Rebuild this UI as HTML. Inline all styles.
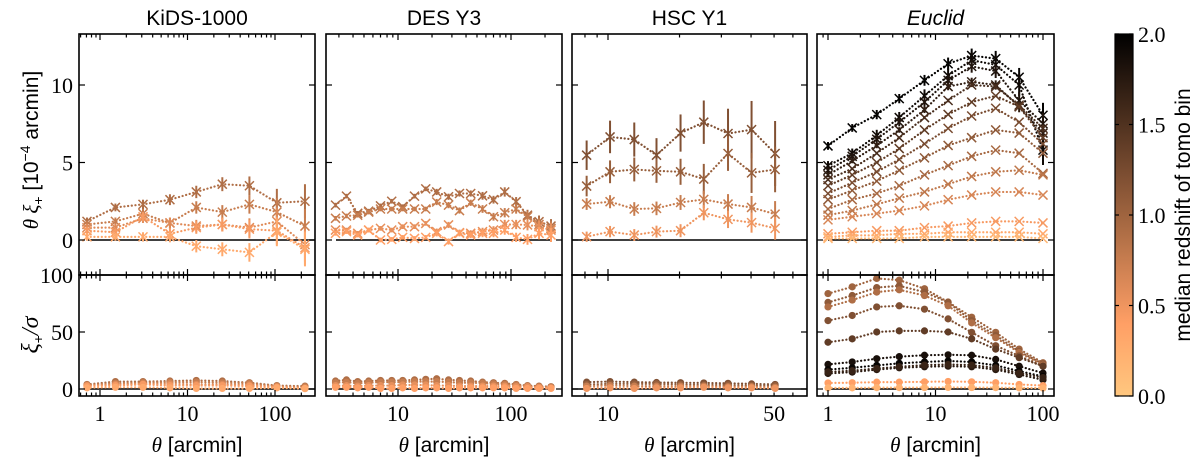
<!DOCTYPE html>
<html><head><meta charset="utf-8">
<style>
body{margin:0;background:#fff;}
svg{display:block;}
.tl{font-family:"Liberation Serif",serif;font-size:22px;fill:#000;}
.tt{font-family:"Liberation Sans",sans-serif;font-size:21px;fill:#000;}
</style></head>
<body>
<svg id="c" width="1200" height="464" viewBox="0 0 1200 464" xmlns="http://www.w3.org/2000/svg"></svg>
<script>
// ---- data ----
const kidsTheta=[0.71,1.5,3.1,6.3,12.6,25,51,105,220];
const kidsZ=[0.9,0.75,0.6,0.45,0.3];
const kidsTop=[
[1.2,2.1,2.3,2.6,3.1,3.6,3.5,2.4,2.5],
[1.0,1.2,1.7,1.1,2.1,1.8,2.3,1.8,0.9],
[0.8,0.8,1.4,1.1,0.9,1.0,0.8,1.2,-0.3],
[0.6,0.5,1.5,0.4,0.8,1.0,0.7,0.6,-0.5],
[0.2,0.2,0.2,0.2,-0.4,-0.6,-0.8,0.5,-0.6]];
const kidsErr=[0.25,0.25,0.3,0.35,0.4,0.45,0.6,0.9,1.1];
const kidsSN=[
[4,6.5,6.5,7,7.5,7,5.5,3,2.5],
[3.5,5,5.5,6,6,5.5,5,2.5,2],
[3,4,4.5,4.5,4,4,3.5,2,1],
[2.5,3,4,3,3,3,2.5,1.5,0.5],
[1,1.5,1.5,1,0.5,0.5,0.5,1,0.3]];

const desTheta=[2.8,3.5,4.4,5.5,7.0,8.8,11,14,17.6,22,28,35,44,56,70,88,111,140,177,226];
const desZ=[0.9,0.75,0.55,0.4];
const desTop=[
[2.25,2.83,1.72,1.86,2.2,2.5,2.15,2.83,3.3,3.1,2.79,3.0,3.0,2.85,2.6,3.1,2.47,1.6,1.18,0.9],
[1.4,1.55,1.6,1.8,2.0,2.0,2.0,2.0,2.0,2.45,2.25,1.9,2.4,2.0,1.5,1.76,2.0,1.5,1.0,0.75],
[0.64,0.64,0.43,0.64,0.75,0.64,0.86,0.86,1.07,0.54,0.97,0.47,0.43,0.54,0.64,1.0,1.0,0.97,0.86,0.64],
[0.43,0.54,0.32,0.64,0.0,0.04,0.17,0.1,0.17,0.43,-0.1,0.43,0.32,0.43,0.43,0.64,0.17,0.04,0.43,0.32]];
const desErr=[0.15,0.15,0.15,0.15,0.15,0.15,0.15,0.15,0.15,0.2,0.2,0.2,0.2,0.25,0.25,0.3,0.3,0.35,0.4,0.45];
const desSN=[
[7,8,6.5,7,7.5,7.5,7.5,8,8.5,9,8,7.5,7,6,5.5,5,4,3,2.5,2],
[5.5,6,5,5.5,6,6,6,6.5,6.5,6.5,6,5.5,5.5,5,4.5,4,3.5,2.5,2,1.5],
[3,3,2.5,3,3,3,3.5,3.5,3.5,3,3,2.5,2.5,2.5,2.5,2.5,2,2,1.5,1],
[1.5,1.5,1,1.5,0.5,0.5,1,0.5,1,1,0.5,1,1,1,1,1,0.5,0.5,0.5,0.5]];

const hscTheta=[8.13,10.2,12.9,16.0,20.2,25.3,32.0,40.2,50.5];
const hscZ=[1.2,1.05,0.75,0.5];
const hscTop=[
[5.47,6.65,6.48,5.47,6.9,7.6,6.87,7.12,5.58],
[3.48,4.4,4.55,4.46,4.4,3.93,5.58,4.33,4.55],
[2.32,2.47,2.0,2.04,2.42,2.62,2.32,2.1,1.67],
[0.21,0.54,0.32,0.54,0.6,1.76,1.33,1.12,0.75]];
const hscErrScale=[1.0,0.7,0.4,0.35];
const hscErr=[0.95,1.05,1.1,1.1,1.2,1.4,1.6,1.85,2.1];
const hscSN=[
[6,6.5,6,5.7,5.5,5.3,5,4.5,4],
[4,4.5,4.5,4.5,4,3.5,3.5,3,3],
[2.5,3,2.5,2.5,2.5,2.5,2,2,1.5],
[0.5,1,0.5,1,1,1.5,1,1,0.5]];

const eucTheta=[1.0,1.68,2.84,4.6,7.9,13.1,21.7,36.3,60,100];
const eucZ=[1.98,1.9,1.8,1.7,1.55,1.4,1.25,1.1,0.95,0.8,0.65,0.45,0.3,0.15];
const eucTop=[
[6.07,7.23,8.09,9.12,10.3,11.37,11.9,11.7,10.5,8.05],
[4.79,5.6,6.75,7.9,9.3,10.6,11.6,11.3,10.0,5.8],
[4.5,5.4,6.5,7.6,8.9,10.3,11.2,10.9,9.0,7.5],
[4.2,5.1,6.1,7.1,8.4,9.9,10.2,10.0,8.6,6.9],
[3.9,4.6,5.6,6.6,7.9,9.0,10.0,9.9,8.7,7.2],
[3.5,4.2,5.0,5.9,7.1,8.1,8.9,9.3,8.6,6.6],
[3.0,3.7,4.4,5.2,6.2,7.2,8.0,8.5,7.6,6.2],
[2.6,3.2,3.8,4.5,5.3,6.1,6.6,7.1,6.9,5.6],
[2.0,2.6,3.0,3.5,4.2,4.8,5.4,5.8,5.6,4.3],
[1.6,1.9,2.3,2.7,3.1,3.6,4.1,4.4,4.5,4.2],
[1.3,1.5,1.7,1.9,2.2,2.6,2.9,3.1,3.1,2.9],
[0.4,0.5,0.6,0.6,0.8,0.9,1.1,1.2,1.2,1.1],
[0.2,0.3,0.3,0.4,0.4,0.5,0.5,0.5,0.5,0.4],
[0.1,0.1,0.1,0.1,0.2,0.2,0.2,0.2,0.2,0.1]];
const eucErr=[0.25,0.25,0.3,0.3,0.35,0.4,0.45,0.5,0.6,0.8];
const eucErrScale=[1,1.2,0.9,0.6,0.3,0.15,0.1,0,0,0,0,0,0,0];
const eucSNZ=[1.0,1.1,0.9,1.2,1.4,1.85,1.95,1.75,1.65,0.4,0.2];
const eucSN=[
[83.7,89.6,97,95.5,88,76.3,63,49.7,35,23],
[76,82,89,90.5,85,76,60,47,33,22],
[72,78,85,87,82,73,58,45,32,21],
[60,64.5,72,73,70,61.5,49.7,38,29,20],
[41,44,50,51,51,50,44,35,27.5,20],
[21.6,23.7,26.6,28.4,29.6,30,29.6,26,20,14],
[17,18.6,20.7,22.5,23.7,24.6,23.7,20.7,15.7,11],
[13.6,14.8,17,18.6,19.5,20,19.5,17,12.7,8],
[15,16,18,19.5,21,21.5,21,18.5,14,10],
[5.3,5.5,6,6,6.3,6.6,6.3,5.5,4,3],
[1,1,1.2,1.2,1.3,1.4,1.3,1.2,1,0.8]];

// ---- helpers ----
const svg=document.getElementById('c');
const NS='http://www.w3.org/2000/svg';
function mk(tag,attrs,parent){const e=document.createElementNS(NS,tag);for(const k in attrs)e.setAttribute(k,attrs[k]);(parent||svg).appendChild(e);return e;}
function cmap(z){const v=1-Math.max(0,Math.min(1,z/2));const r=Math.min(1,1.25*v),g=0.7812*v,b=0.4975*v;return `rgb(${Math.round(r*255)},${Math.round(g*255)},${Math.round(b*255)})`;}
const TOP=34,MID=275,BOT=396;
const yT=v=>240-v*15.5;
const yB=v=>389-v*1.14;
const DASH='0.1,3.6';

function panel(cfg){
  const g=mk('g',{});
  
  
  const X=t=>cfg.px1+(Math.log10(t)-Math.log10(cfg.v1))*cfg.ppd;
  const L=cfg.L,R=cfg.R;
  const tt=mk('text',{x:(L+R)/2,y:25,'text-anchor':'middle',class:'tt'},g);
  tt.textContent=cfg.title;
  if(cfg.italic)tt.setAttribute('font-style','italic');
  
  
  mk('line',{x1:cfg.z0,x2:cfg.z1,y1:yT(0),y2:yT(0),stroke:'#000','stroke-width':1.6},g);
  mk('line',{x1:cfg.z0,x2:cfg.z1,y1:yB(0),y2:yB(0),stroke:'#000','stroke-width':1.6},g);
  const dg=mk('g',{},g);
  
  
  cfg.top.forEach((s,i)=>{
    const col=cmap(cfg.z[i]);
    const pts=s.map((v,j)=>X(cfg.theta[j])+','+yT(v)).join(' ');
    const pl=mk('polyline',{points:pts,fill:'none',stroke:col,'stroke-width':2.2,'stroke-dasharray':DASH,'stroke-linecap':'round'},dg);
    
    
    s.forEach((v,j)=>{
      const x=X(cfg.theta[j]),y=yT(v),e=cfg.err[j]*(cfg.errScale?cfg.errScale[i]:1)*15.5;
      if(e>0.5)mk('line',{x1:x,x2:x,y1:y-e,y2:y+e,stroke:col,'stroke-width':2},dg);
      const m=4.5;
      mk('path',{d:`M${x-m},${y-m}L${x+m},${y+m}M${x-m},${y+m}L${x+m},${y-m}`,stroke:col,'stroke-width':1.5,fill:'none'},dg);
    });
  });
  const bg=mk('g',{},g);
  
  
  cfg.sn.forEach((s,i)=>{
    const col=cmap(cfg.snz[i]);
    const pts=s.map((v,j)=>X(cfg.theta[j])+','+yB(v)).join(' ');
    mk('polyline',{points:pts,fill:'none',stroke:col,'stroke-width':2.2,'stroke-dasharray':DASH,'stroke-linecap':'round'},bg);
    s.forEach((v,j)=>mk('circle',{cx:X(cfg.theta[j]),cy:yB(v),r:3.6,fill:col},bg));
  });
  mk('rect',{x:L,y:TOP,width:R-L,height:MID-TOP,fill:'none',stroke:'#000','stroke-width':1.6},g);
  mk('rect',{x:L,y:MID,width:R-L,height:BOT-MID,fill:'none',stroke:'#000','stroke-width':1.6},g);
  const lo=Math.floor(Math.log10(cfg.xmin)),hi=Math.ceil(Math.log10(cfg.xmax));
  for(let d=lo;d<=hi;d++){for(let k=1;k<10;k++){const t=k*Math.pow(10,d);const x=X(t);if(x<L+1||x>R-1)continue;
    const len=k==1?6:3.5;
    [TOP,MID,BOT].forEach(y0=>{
      if(y0!==TOP)mk('line',{x1:x,x2:x,y1:y0,y2:y0-len,stroke:'#000','stroke-width':1.2},g);
      if(y0!==BOT)mk('line',{x1:x,x2:x,y1:y0,y2:y0+len,stroke:'#000','stroke-width':1.2},g);
    });}}
  cfg.xlabels.forEach(t=>{const tx=mk('text',{x:X(t),y:421,'text-anchor':'middle',class:'tl'},g);tx.textContent=String(t);});
  [0,5,10].forEach(v=>{mk('line',{x1:L,x2:L+6,y1:yT(v),y2:yT(v),stroke:'#000','stroke-width':1.2},g);mk('line',{x1:R,x2:R-6,y1:yT(v),y2:yT(v),stroke:'#000','stroke-width':1.2},g);});
  [0,50,100].forEach(v=>{mk('line',{x1:L,x2:L+6,y1:yB(v),y2:yB(v),stroke:'#000','stroke-width':1.2},g);mk('line',{x1:R,x2:R-6,y1:yB(v),y2:yB(v),stroke:'#000','stroke-width':1.2},g);});
  const xt=mk('text',{x:(L+R)/2,y:452,'text-anchor':'middle',class:'tt'},g);
  xt.innerHTML='<tspan font-family="Liberation Serif" font-style="italic">θ</tspan> [arcmin]';
  
  
}

panel({id:'kids',title:'KiDS-1000',L:79,R:315,px1:100,v1:1,ppd:87.5,xmin:0.58,xmax:286,z0:88,z1:315,theta:kidsTheta,z:kidsZ,top:kidsTop,err:kidsErr,sn:kidsSN,snz:kidsZ,xlabels:[1,10,100]});
panel({id:'des',title:'DES Y3',L:326,R:562,px1:398,v1:10,ppd:113,xmin:2.3,xmax:283,z0:336,z1:551,theta:desTheta,z:desZ,top:desTop,err:desErr,sn:desSN,snz:desZ,xlabels:[10,100]});
panel({id:'hsc',title:'HSC Y1',L:572,R:807,px1:608,v1:10,ppd:237.6,xmin:7.06,xmax:68.7,z0:572,z1:807,theta:hscTheta,z:hscZ,top:hscTop,err:hscErr,errScale:hscErrScale,sn:hscSN,snz:hscZ,xlabels:[10,50]});
panel({id:'euclid',title:'Euclid',italic:true,L:817,R:1054,px1:828,v1:1,ppd:107.5,xmin:0.79,xmax:126,z0:828,z1:1043,theta:eucTheta,z:eucZ,top:eucTop,err:eucErr,errScale:eucErrScale,sn:eucSN,snz:eucSNZ,xlabels:[1,10,100]});

[[0,yT(0)],[5,yT(5)],[10,yT(10)]].forEach(([v,y])=>{const t=mk('text',{x:73,y:y+8,'text-anchor':'end',class:'tl'});t.textContent=v;});
[[0,yB(0)],[50,yB(50)],[100,yB(100)]].forEach(([v,y])=>{const t=mk('text',{x:73,y:y+8,'text-anchor':'end',class:'tl'});t.textContent=v;});
const yl1=mk('text',{x:0,y:0,'text-anchor':'middle',class:'tt',transform:'translate(38,150) rotate(-90)'});
yl1.innerHTML='<tspan font-family="Liberation Serif" font-style="italic">θ ξ</tspan><tspan font-size="14" dy="5">+</tspan><tspan dy="-5"> [10</tspan><tspan font-size="14" dy="-8">−4</tspan><tspan dy="8"> arcmin]</tspan>';


const yl2=mk('text',{x:0,y:0,'text-anchor':'middle',class:'tt',transform:'translate(38,335) rotate(-90)'});
yl2.innerHTML='<tspan font-family="Liberation Serif" font-style="italic" font-size="24">ξ</tspan><tspan font-size="14" dy="5">+</tspan><tspan dy="-5" font-family="Liberation Serif" font-style="italic" font-size="24">/σ</tspan>';



const defs=mk('defs',{});
const lg=mk('linearGradient',{id:'cb',x1:0,y1:1,x2:0,y2:0},defs);
for(let i=0;i<=10;i++)mk('stop',{offset:i/10,'stop-color':cmap(i/5)},lg);
const cb=mk('rect',{x:1115,y:34,width:18,height:362,fill:'url(#cb)',stroke:'#000','stroke-width':1.2});


[0,0.5,1,1.5,2].forEach(v=>{const y=396-v/2*362;mk('line',{x1:1133,x2:1129,y1:y,y2:y,stroke:'#000','stroke-width':1.2});mk('line',{x1:1115,x2:1119,y1:y,y2:y,stroke:'#000','stroke-width':1.2});const t=mk('text',{x:1138,y:y+8,class:'tl'});t.textContent=v.toFixed(1);});
const cl=mk('text',{x:0,y:0,'text-anchor':'middle',class:'tt',transform:'translate(1190,215) rotate(-90)'});
cl.textContent='median redshift of tomo bin';


</script>
</body></html>
